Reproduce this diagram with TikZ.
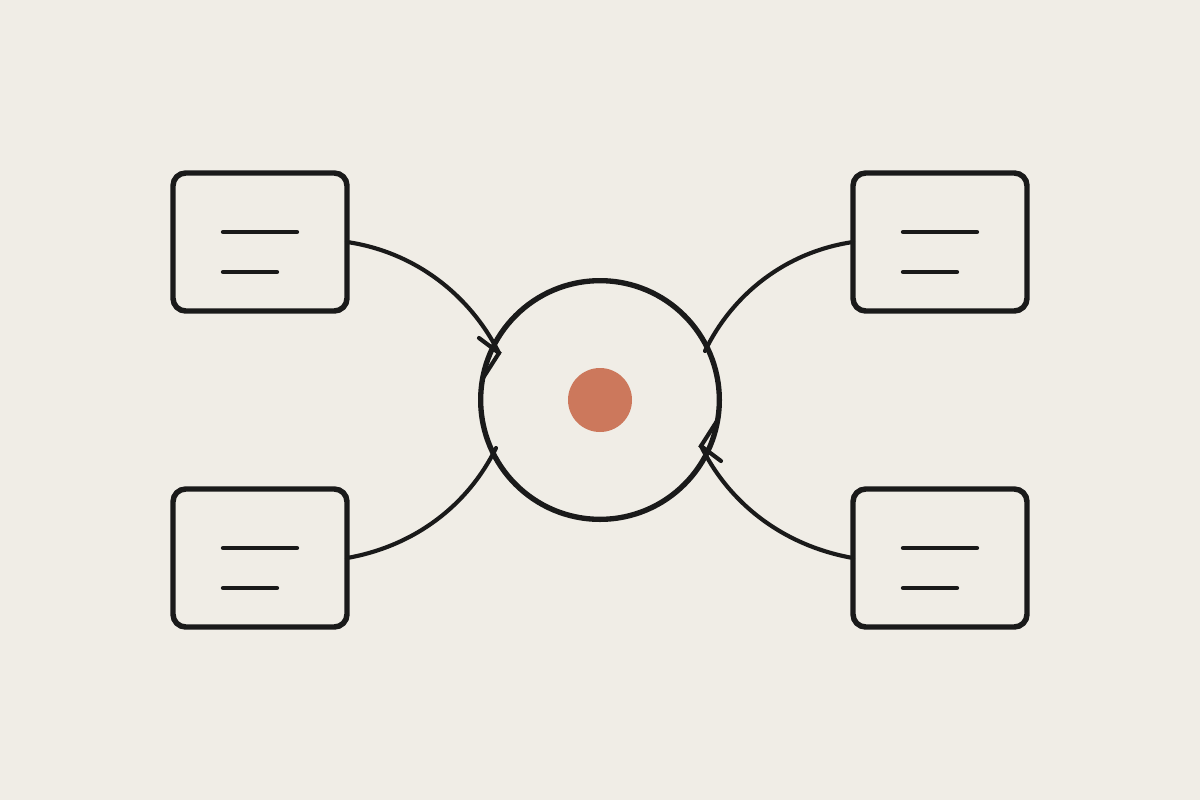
\documentclass[tikz,border=0pt]{standalone}
\usetikzlibrary{calc}
\definecolor{bg}{HTML}{F0EDE6}
\definecolor{ink}{HTML}{1A1A1A}
\definecolor{dot}{HTML}{CC785C}
\begin{document}
\begin{tikzpicture}[x=0.75pt,y=-0.75pt,
  card/.style={draw=ink,line width=4.1pt,rounded corners=9.5pt,minimum width=130.5pt,minimum height=103.5pt,inner sep=0pt,outer sep=0pt},
  hub/.style={draw=ink,line width=4pt,circle,minimum size=179pt,inner sep=0pt,outer sep=0pt},
  core/.style={fill=dot,circle,minimum size=48pt,inner sep=0pt},
  txt/.style={ink,line width=3.2pt,line cap=round},
  link/.style={ink,line width=3.1pt,line cap=round},
  tip/.style={ink,line width=3.1pt,line cap=round,line join=miter}]
\fill[bg] (0,0) rectangle (1200,800);
\useasboundingbox (0,0) rectangle (1200,800);
\node[hub] (c) at (600,400) {};
\node[core] (d) at (600,400) {};
\node[card] (tl) at (260,242) {};
\node[card] (tr) at (940,242) {};
\node[card] (bl) at (260,558) {};
\node[card] (br) at (940,558) {};
\foreach \b in {tl,tr,bl,br}{
  \draw[txt] ($(\b)+(-37,-10)$) -- ($(\b)+(37,-10)$);
  \draw[txt] ($(\b)+(-37,30)$) -- ($(\b)+(17,30)$);
}
\coordinate (a1) at (499,353);
\coordinate (a2) at (705,351);
\coordinate (a3) at (496,448);
\coordinate (a4) at (701,446);
\draw[link] (tl.east) .. controls (415,252) and (470,295) .. (a1);
\draw[link] (tr.west) .. controls (785,252) and (732,295) .. (a2);
\draw[link] (bl.east) .. controls (415,546) and (468,505) .. (a3);
\draw[link] (br.west) .. controls (785,546) and (730,505) .. (a4);
\draw[tip] ($(a1)+(-20,-15)$) -- (a1) -- ($(a1)+(-16,25)$);
\draw[tip] ($(a4)+(20,15)$) -- (a4) -- ($(a4)+(16,-25)$);
\end{tikzpicture}
\end{document}
